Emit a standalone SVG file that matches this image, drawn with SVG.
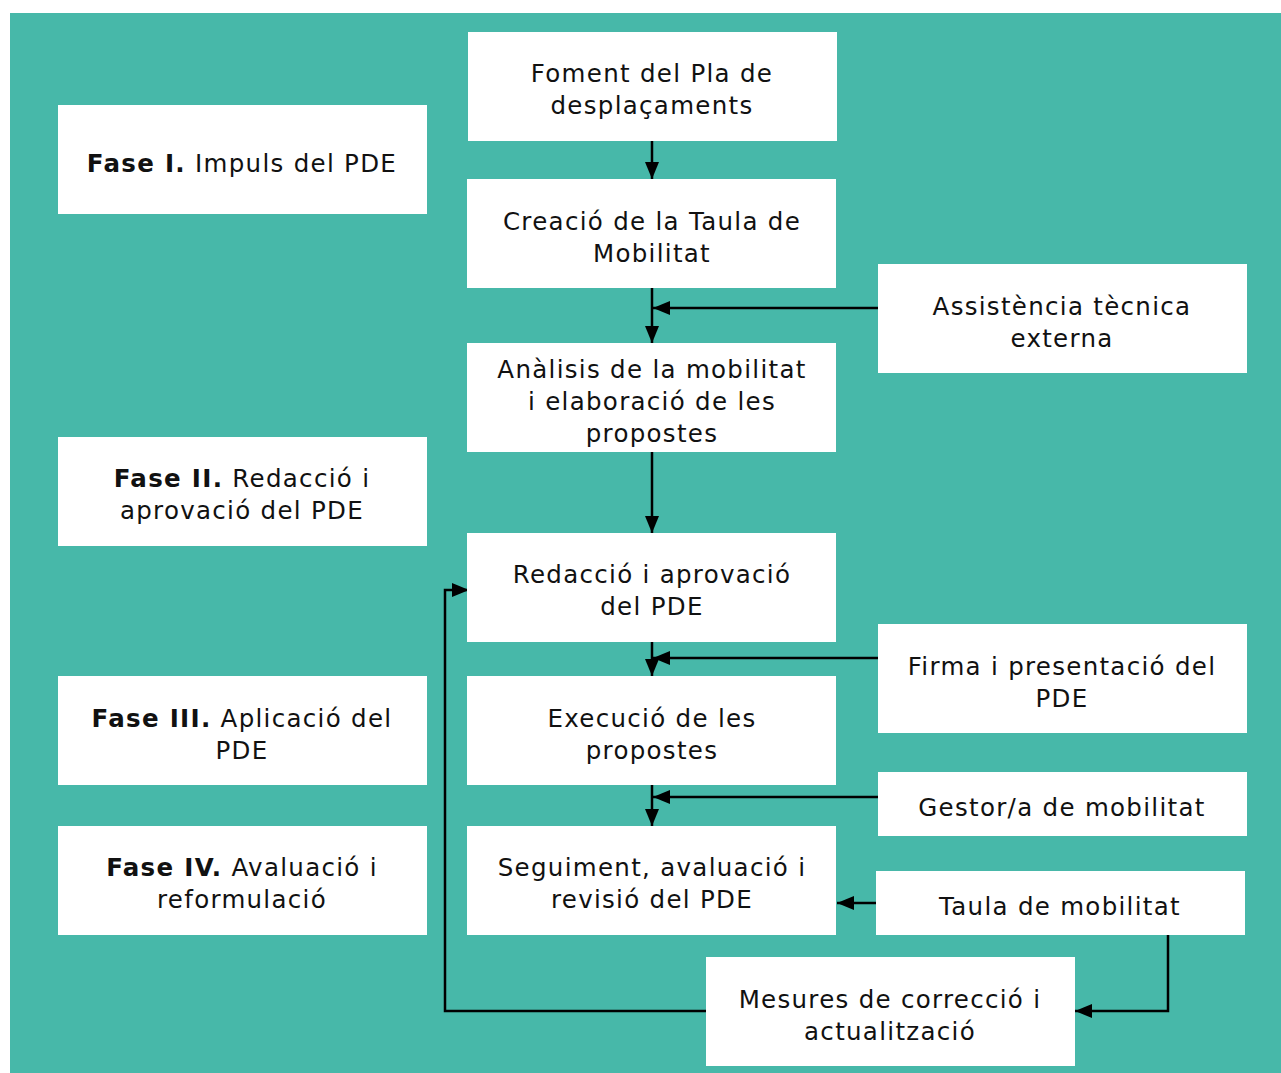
<svg xmlns="http://www.w3.org/2000/svg" width="1281" height="1073" viewBox="0 0 1281 1073">
<defs>
<style>
.box{fill:#ffffff;}
.t{font-family:"DejaVu Sans","Liberation Sans",sans-serif;font-size:24.5px;letter-spacing:1.3px;fill:#111111;text-anchor:middle;}
.b{font-weight:bold;}
.c{fill:none;stroke:#000000;stroke-width:2.5;}
</style>
<marker id="ah" markerUnits="userSpaceOnUse" markerWidth="18" markerHeight="14" refX="17" refY="7" orient="auto">
<path d="M0,0 L17,7 L0,14 Z" fill="#000000"/>
</marker>
</defs>
<rect x="10" y="13" width="1271" height="1060" fill="#47b8a9"/>

<g id="connectors">
<path class="c" d="M652,141 V179" marker-end="url(#ah)"/>
<path class="c" d="M652,288 V343" marker-end="url(#ah)"/>
<path class="c" d="M878,308 H653" marker-end="url(#ah)"/>
<path class="c" d="M652,452 V533" marker-end="url(#ah)"/>
<path class="c" d="M652,642 V676" marker-end="url(#ah)"/>
<path class="c" d="M878,658 H653" marker-end="url(#ah)"/>
<path class="c" d="M652,785 V826" marker-end="url(#ah)"/>
<path class="c" d="M878,797 H653" marker-end="url(#ah)"/>
<path class="c" d="M876,903 H837" marker-end="url(#ah)"/>
<path class="c" d="M1168,935 V1011 H1075" marker-end="url(#ah)"/>
<path class="c" d="M706,1011 H445 V590 H469" marker-end="url(#ah)"/>
</g>

<g id="n-foment"><rect class="box" x="468" y="32" width="369" height="109"/>
<text class="t" x="652" y="82">Foment del Pla de</text><text class="t" x="652" y="114">desplaçaments</text></g>

<g id="n-creacio"><rect class="box" x="467" y="179" width="369" height="109"/>
<text class="t" x="652" y="230">Creació de la Taula de</text><text class="t" x="652" y="262">Mobilitat</text></g>

<g id="n-assistencia"><rect class="box" x="878" y="264" width="369" height="109"/>
<text class="t" x="1062" y="315">Assistència tècnica</text><text class="t" x="1062" y="347">externa</text></g>

<g id="n-analisis"><rect class="box" x="467" y="343" width="369" height="109"/>
<text class="t" x="652" y="378">Anàlisis de la mobilitat</text><text class="t" x="652" y="410">i elaboració de les</text><text class="t" x="652" y="442">propostes</text></g>

<g id="n-redaccio"><rect class="box" x="467" y="533" width="369" height="109"/>
<text class="t" x="652" y="583">Redacció i aprovació</text><text class="t" x="652" y="615">del PDE</text></g>

<g id="n-firma"><rect class="box" x="878" y="624" width="369" height="109"/>
<text class="t" x="1062" y="675">Firma i presentació del</text><text class="t" x="1062" y="707">PDE</text></g>

<g id="n-execucio"><rect class="box" x="467" y="676" width="369" height="109"/>
<text class="t" x="652" y="727">Execució de les</text><text class="t" x="652" y="759">propostes</text></g>

<g id="n-gestor"><rect class="box" x="878" y="772" width="369" height="64"/>
<text class="t" x="1062" y="816">Gestor/a de mobilitat</text></g>

<g id="n-seguiment"><rect class="box" x="467" y="826" width="369" height="109"/>
<text class="t" x="652" y="876">Seguiment, avaluació i</text><text class="t" x="652" y="908">revisió del PDE</text></g>

<g id="n-taula"><rect class="box" x="876" y="871" width="369" height="64"/>
<text class="t" x="1060" y="915">Taula de mobilitat</text></g>

<g id="n-mesures"><rect class="box" x="706" y="957" width="369" height="109"/>
<text class="t" x="890" y="1008">Mesures de correcció i</text><text class="t" x="890" y="1040">actualització</text></g>

<g id="n-fase1"><rect class="box" x="58" y="105" width="369" height="109"/>
<text class="t" x="242" y="172"><tspan class="b">Fase I.</tspan> Impuls del PDE</text></g>

<g id="n-fase2"><rect class="box" x="58" y="437" width="369" height="109"/>
<text class="t" x="242" y="487"><tspan class="b">Fase II.</tspan> Redacció i</text><text class="t" x="242" y="519">aprovació del PDE</text></g>

<g id="n-fase3"><rect class="box" x="58" y="676" width="369" height="109"/>
<text class="t" x="242" y="727"><tspan class="b">Fase III.</tspan> Aplicació del</text><text class="t" x="242" y="759">PDE</text></g>

<g id="n-fase4"><rect class="box" x="58" y="826" width="369" height="109"/>
<text class="t" x="242" y="876"><tspan class="b">Fase IV.</tspan> Avaluació i</text><text class="t" x="242" y="908">reformulació</text></g>
</svg>
